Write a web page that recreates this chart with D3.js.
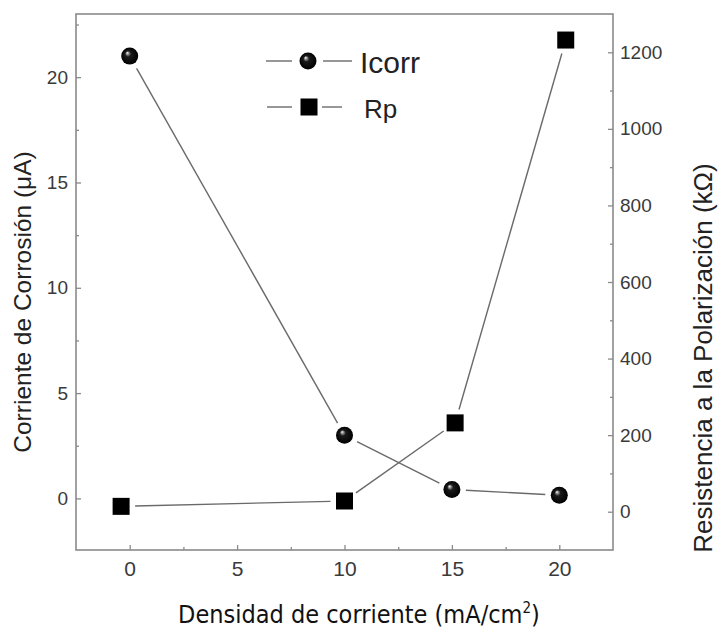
<!DOCTYPE html>
<html>
<head>
<meta charset="utf-8">
<script src="https://cdn.jsdelivr.net/npm/d3@7"></script>
<style>
  body { margin: 0; background: #fff; }
  svg { display: block; }
</style>
</head>
<body>
<div id="chart"></div>
<script>
// data
const icorr_x = [0, 10, 15, 20];
const icorr_values = [21, 3, 0.42, 0.15];
const rp_x = [-0.4, 10, 15.15, 20.3];
const rp_values = [14, 28, 232, 1232];

const x_ticks = [0, 5, 10, 15, 20];
const x_minor_ticks = [2.5, 7.5, 12.5, 17.5];
const left_ticks = [0, 5, 10, 15, 20];
const left_minor_ticks = [2.5, 7.5, 12.5, 17.5, 22.5];
const right_ticks = [0, 200, 400, 600, 800, 1000, 1200];
const right_minor_ticks = [100, 300, 500, 700, 900, 1100];

const width = 721;
const height = 637;
const plot = { left: 76, right: 613, top: 14, bottom: 550 };
const frame_color = "#8a8a8a";
const line_color = "#6a6a6a";
const gap = 14; // space left between the line and each marker

const svg = d3
  .select("#chart")
  .append("svg")
  .attr("width", width)
  .attr("height", height);

const defs = svg.append("defs");
const grad = defs
  .append("radialGradient")
  .attr("id", "ball")
  .attr("cx", 0.5)
  .attr("cy", 0.5)
  .attr("r", 0.5)
  .attr("fx", 0.35)
  .attr("fy", 0.3);
grad.append("stop").attr("offset", 0).attr("stop-color", "#ffffff");
grad.append("stop").attr("offset", 0.14).attr("stop-color", "#9a9a9a");
grad.append("stop").attr("offset", 0.35).attr("stop-color", "#1a1a1a");
grad.append("stop").attr("offset", 1).attr("stop-color", "#000000");

const x = d3.scaleLinear().domain([-2.5, 22.5]).range([plot.left, plot.right]);
const y_left = d3.scaleLinear().domain([-2.45, 23]).range([plot.bottom, plot.top]);
const y_right = d3.scaleLinear().domain([-100, 1300]).range([plot.bottom, plot.top]);

function styleAxis(g, font_size) {
  g.select(".domain").remove();
  g.selectAll(".tick line").attr("stroke", frame_color).attr("stroke-width", 1.3);
  g.selectAll(".tick text")
    .attr("fill", "#3a3a3a")
    .style("font-family", "'Liberation Sans', Arial, sans-serif")
    .style("font-size", font_size + "px");
}

// minor ticks first, no labels
svg.append("g")
  .attr("transform", `translate(0,${plot.bottom})`)
  .call(d3.axisBottom(x).tickValues(x_minor_ticks).tickSize(-3).tickFormat(""))
  .call((g) => styleAxis(g, 21));
svg.append("g")
  .attr("transform", `translate(${plot.left},0)`)
  .call(d3.axisLeft(y_left).tickValues(left_minor_ticks).tickSize(-3).tickFormat(""))
  .call((g) => styleAxis(g, 19));
svg.append("g")
  .attr("transform", `translate(${plot.right},0)`)
  .call(d3.axisRight(y_right).tickValues(right_minor_ticks).tickSize(-3).tickFormat(""))
  .call((g) => styleAxis(g, 19));

// major ticks with labels
svg.append("g")
  .attr("transform", `translate(0,${plot.bottom})`)
  .call(d3.axisBottom(x).tickValues(x_ticks).tickSize(-5).tickPadding(11).tickFormat(d3.format("d")))
  .call((g) => styleAxis(g, 21));
svg.append("g")
  .attr("transform", `translate(${plot.left},0)`)
  .call(d3.axisLeft(y_left).tickValues(left_ticks).tickSize(-5).tickPadding(8).tickFormat(d3.format("d")))
  .call((g) => styleAxis(g, 19));
svg.append("g")
  .attr("transform", `translate(${plot.right},0)`)
  .call(d3.axisRight(y_right).tickValues(right_ticks).tickSize(-5).tickPadding(7).tickFormat(d3.format("d")))
  .call((g) => styleAxis(g, 19));

// frame
svg.append("rect")
  .attr("x", plot.left)
  .attr("y", plot.top)
  .attr("width", plot.right - plot.left)
  .attr("height", plot.bottom - plot.top)
  .attr("fill", "none")
  .attr("stroke", frame_color)
  .attr("stroke-width", 1.6);

// connecting lines, cut short near the markers
function drawGappedLine(points) {
  for (let i = 0; i < points.length - 1; i++) {
    const [x1, y1] = points[i];
    const [x2, y2] = points[i + 1];
    const len = Math.hypot(x2 - x1, y2 - y1);
    const ux = (x2 - x1) / len;
    const uy = (y2 - y1) / len;
    svg.append("line")
      .attr("x1", x1 + ux * gap)
      .attr("y1", y1 + uy * gap)
      .attr("x2", x2 - ux * gap)
      .attr("y2", y2 - uy * gap)
      .attr("stroke", line_color)
      .attr("stroke-width", 1.4);
  }
}

const icorr_points = icorr_x.map((d, i) => [x(d), y_left(icorr_values[i])]);
const rp_points = rp_x.map((d, i) => [x(d), y_right(rp_values[i])]);
drawGappedLine(icorr_points);
drawGappedLine(rp_points);

function drawBall(g, cx, cy) {
  g.append("circle")
    .attr("cx", cx)
    .attr("cy", cy)
    .attr("r", 8.5)
    .attr("fill", "url(#ball)");
}

function drawSquare(g, cx, cy) {
  const s = 17;
  g.append("rect")
    .attr("x", cx - s / 2)
    .attr("y", cy - s / 2)
    .attr("width", s)
    .attr("height", s)
    .attr("fill", "#000");
}

const marks = svg.append("g");
icorr_points.forEach(([cx, cy]) => drawBall(marks, cx, cy));
rp_points.forEach(([cx, cy]) => drawSquare(marks, cx, cy));

// legend
const legend = svg.append("g");
function legendLine(x1, x2, yy) {
  legend.append("line")
    .attr("x1", x1).attr("x2", x2)
    .attr("y1", yy).attr("y2", yy)
    .attr("stroke", line_color)
    .attr("stroke-width", 1.4);
}
legendLine(266, 292, 61);
legendLine(323, 352, 61);
drawBall(legend, 308, 61);
legend.append("text")
  .attr("x", 360)
  .attr("y", 73)
  .attr("fill", "#222")
  .style("font-family", "'Liberation Sans', Arial, sans-serif")
  .style("font-size", "30px")
  .text("Icorr");

legendLine(267, 292, 107);
legendLine(322, 342, 107);
drawSquare(legend, 309, 107);
legend.append("text")
  .attr("x", 364)
  .attr("y", 118)
  .attr("fill", "#222")
  .style("font-family", "'Liberation Sans', Arial, sans-serif")
  .style("font-size", "26px")
  .text("Rp");

// axis titles
svg.append("text")
  .attr("transform", "translate(31,302) rotate(-90)")
  .attr("text-anchor", "middle")
  .attr("fill", "#222")
  .style("font-family", "'Liberation Sans', Arial, sans-serif")
  .style("font-size", "24.5px")
  .text("Corriente de Corrosión (μA)");

svg.append("text")
  .attr("transform", "translate(712,358) rotate(-90)")
  .attr("text-anchor", "middle")
  .attr("fill", "#222")
  .style("font-family", "'Liberation Sans', Arial, sans-serif")
  .style("font-size", "26px")
  .text("Resistencia a la Polarización (kΩ)");

const x_title = svg.append("text")
  .attr("x", 359)
  .attr("y", 623)
  .attr("text-anchor", "middle")
  .attr("fill", "#111")
  .style("font-family", "'DejaVu Sans Condensed', 'DejaVu Sans', sans-serif")
  .style("font-size", "25px");
x_title.append("tspan").text("Densidad de corriente (mA/cm");
x_title.append("tspan").attr("dy", -10).style("font-size", "15px").text("2");
x_title.append("tspan").attr("dy", 10).text(")");
</script>
</body>
</html>
